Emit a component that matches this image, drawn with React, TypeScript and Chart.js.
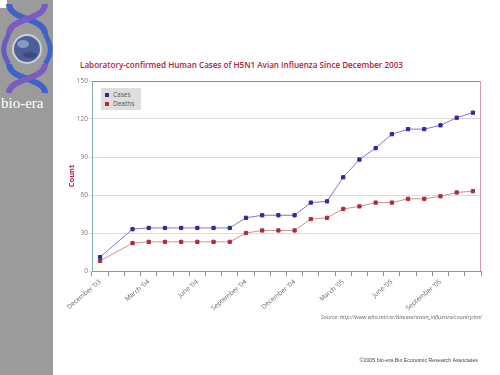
import React, { useEffect, useRef } from "react";
import { Chart, registerables } from "chart.js";

Chart.register(...registerables);

const categories = [
  "December '03", "January '04", "February '04", "March '04", "April '04", "May '04",
  "June '04", "July '04", "August '04", "September '04", "October '04", "November '04",
  "December '04", "January '05", "February '05", "March '05", "April '05", "May '05",
  "June '05", "July '05", "August '05", "September '05", "October '05", "November '05",
];

const cases = [11, null, 33, 34, 34, 34, 34, 34, 34, 42, 44, 44, 44, 54, 55, 74, 88, 97, 108, 112, 112, 115, 121, 125];
const deaths = [8, null, 22, 23, 23, 23, 23, 23, 23, 30, 32, 32, 32, 41, 42, 49, 51, 54, 54, 57, 57, 59, 62, 63];

const yTicks = [0, 30, 60, 90, 120, 150];

const CASES_MARK = "#2e2a9c";
const CASES_LINE = "#7d76d8";
const DEATHS_MARK = "#b3283e";
const DEATHS_LINE = "#d98a98";
const RED_TEXT = "#b3213b";

const borderPlugin = {
  id: "plotBorder",
  afterDraw(chart: any) {
    const { ctx, chartArea: a } = chart;
    ctx.save();
    ctx.lineWidth = 1;
    const seg = (x1: number, y1: number, x2: number, y2: number, c: string) => {
      ctx.strokeStyle = c;
      ctx.beginPath();
      ctx.moveTo(x1, y1);
      ctx.lineTo(x2, y2);
      ctx.stroke();
    };
    seg(a.left, a.top + 0.5, a.right, a.top + 0.5, "#8a8a8a");
    seg(a.right - 0.5, a.top, a.right - 0.5, a.bottom, "#d99aa4");
    seg(a.left, a.bottom + 0.5, a.right, a.bottom + 0.5, "#d97a88");
    seg(a.left + 0.5, a.top, a.left + 0.5, a.bottom, "#7fb0a6");
    ctx.restore();
  },
};

function ChartCanvas() {
  const ref = useRef<HTMLCanvasElement | null>(null);
  useEffect(() => {
    if (!ref.current) return;
    const chart = new Chart(ref.current, {
      type: "line",
      data: {
        labels: categories,
        datasets: [
          {
            label: "Cases",
            data: cases,
            borderColor: CASES_LINE,
            backgroundColor: CASES_MARK,
            pointBackgroundColor: CASES_MARK,
            pointBorderColor: CASES_MARK,
            pointStyle: "rect",
            pointRadius: 2.3,
            borderWidth: 1,
            spanGaps: true,
            tension: 0,
          },
          {
            label: "Deaths",
            data: deaths,
            borderColor: DEATHS_LINE,
            backgroundColor: DEATHS_MARK,
            pointBackgroundColor: DEATHS_MARK,
            pointBorderColor: DEATHS_MARK,
            pointStyle: "rect",
            pointRadius: 2.3,
            borderWidth: 1,
            spanGaps: true,
            tension: 0,
          },
        ],
      },
      options: {
        animation: false,
        responsive: false,
        maintainAspectRatio: false,
        layout: { padding: { left: 0, right: 9, top: 5, bottom: 0 } },
        plugins: { legend: { display: false }, tooltip: { enabled: false } },
        scales: {
          x: {
            type: "category",
            offset: true,
            grid: {
              offset: true,
              drawOnChartArea: false,
              drawTicks: true,
              tickLength: 5,
              color: "#8a8a8a",
            },
            border: { display: false },
            afterFit: (s: any) => {
              s.height = 75;
            },
            ticks: {
              autoSkip: false,
              minRotation: 40,
              maxRotation: 40,
              padding: 2,
              color: "#666",
              font: { family: "Open Sans", size: 6.5 },
              callback: (_v: any, i: number) => (i % 3 === 0 ? categories[i] : ""),
            },
          },
          y: {
            min: 0,
            max: 150,
            afterBuildTicks: (s: any) => {
              s.ticks = yTicks.map((v) => ({ value: v }));
            },
            afterFit: (s: any) => {
              s.width = 32;
            },
            grid: {
              color: "#dcdcdc",
              drawTicks: true,
              tickLength: 3,
            },
            border: { display: false },
            ticks: {
              padding: 1,
              color: "#777",
              font: { family: "Open Sans", size: 6.5 },
            },
            title: {
              display: true,
              text: "Count",
              color: RED_TEXT,
              padding: { top: 7, bottom: 0 },
              font: { family: "Open Sans", size: 7.5, weight: "bold" },
            },
          },
        },
      },
      plugins: [borderPlugin],
    } as any);
    return () => chart.destroy();
  }, []);
  return (
    <canvas
      ref={ref}
      width={430}
      height={270}
      style={{ position: "absolute", left: 60, top: 76, width: 430, height: 270 }}
    />
  );
}

function Logo() {
  return (
    <svg width={53} height={96} style={{ position: "absolute", left: 0, top: 0 }}>
      <rect x={0} y={0} width={7} height={8} fill="#ffffff" />
      <path d="M9,4 C9,20 45,18 45,34" stroke="#3f62c8" strokeWidth={6} fill="none" />
      <path d="M45,4 C45,20 9,18 9,34" stroke="#7b5cc2" strokeWidth={6} fill="none" />
      <path d="M9,34 C2,46 2,54 9,64" stroke="#6a5bc0" strokeWidth={5} fill="none" />
      <path d="M45,34 C52,46 52,54 45,64" stroke="#3d66cc" strokeWidth={5} fill="none" />
      <circle cx={27} cy={49} r={15} fill="#c9d0de" />
      <circle cx={27} cy={49} r={13} fill="#4c5f98" />
      <ellipse cx={23} cy={44} rx={6} ry={4} fill="#8798c6" />
      <ellipse cx={30} cy={55} rx={7} ry={3} fill="#3a4a7c" />
      <path d="M9,64 C9,80 45,78 45,93" stroke="#3f62c8" strokeWidth={6} fill="none" />
      <path d="M45,64 C45,80 9,78 9,93" stroke="#7b5cc2" strokeWidth={6} fill="none" />
    </svg>
  );
}

export default function App() {
  return (
    <div
      style={{
        position: "fixed",
        left: 0,
        top: 0,
        width: 500,
        height: 375,
        background: "#ffffff",
        overflow: "hidden",
      }}
    >
      <div style={{ position: "absolute", left: 0, top: 0, width: 53, height: 375, background: "#9b9b9b" }} />
      <Logo />
      <div
        style={{
          position: "absolute",
          left: 1,
          top: 95,
          fontFamily: "Liberation Serif",
          fontSize: 15,
          color: "#ffffff",
          lineHeight: "17px",
          whiteSpace: "nowrap",
        }}
      >
        bio-era
      </div>
      <div
        style={{
          position: "absolute",
          left: 80,
          top: 59,
          fontFamily: "Open Sans",
          fontSize: 8.1,
          fontWeight: 600,
          color: RED_TEXT,
          whiteSpace: "nowrap",
          lineHeight: "12px",
        }}
      >
        Laboratory-confirmed Human Cases of H5N1 Avian Influenza Since December 2003
      </div>
      <ChartCanvas />
      <div
        style={{
          position: "absolute",
          left: 101,
          top: 88,
          width: 40,
          height: 22,
          background: "#dedede",
          fontFamily: "Open Sans",
          fontSize: 6.5,
          color: "#555",
          lineHeight: "9px",
          padding: "2px 0 0 4px",
          boxSizing: "border-box",
        }}
      >
        <div style={{ display: "flex", alignItems: "center" }}>
          <span style={{ display: "inline-block", width: 4, height: 4, background: CASES_MARK, marginRight: 4 }} />
          {"Cases"}
        </div>
        <div style={{ display: "flex", alignItems: "center" }}>
          <span style={{ display: "inline-block", width: 4, height: 4, background: DEATHS_MARK, marginRight: 4 }} />
          {"Deaths"}
        </div>
      </div>
      <div
        style={{
          position: "absolute",
          right: 18,
          top: 313,
          fontFamily: "Open Sans",
          fontStyle: "italic",
          fontSize: 5.4,
          color: "#666",
          whiteSpace: "nowrap",
        }}
      >
        Source: http://www.who.int/csr/disease/avian_influenza/country/en/
      </div>
      <div
        style={{
          position: "absolute",
          right: 22,
          top: 357,
          fontFamily: "Liberation Sans",
          fontSize: 5.3,
          color: "#444",
          whiteSpace: "nowrap",
        }}
      >
        ©2005 bio-era Bio Economic Research Associates
      </div>
    </div>
  );
}
